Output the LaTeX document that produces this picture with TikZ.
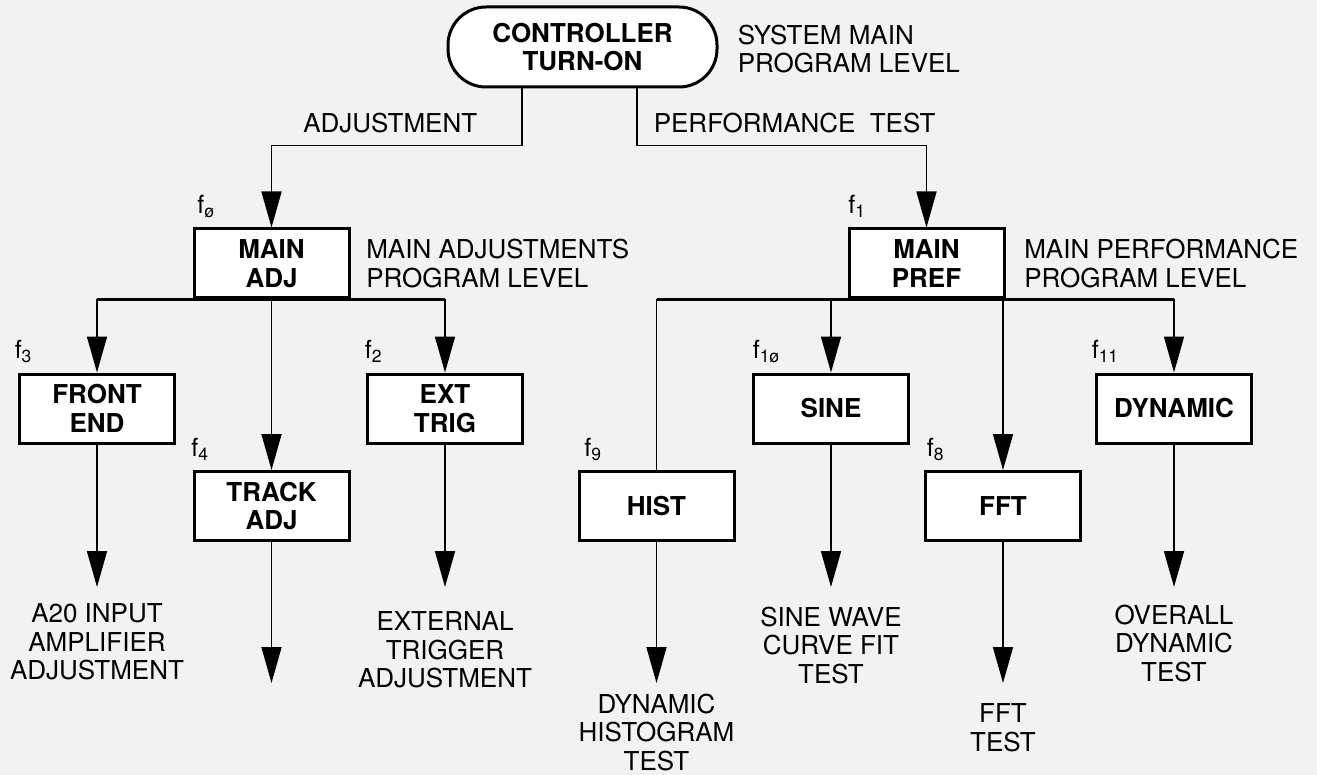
\documentclass[tikz,border=0pt]{standalone}
\usepackage{fontspec}
\setmainfont{TeX Gyre Heros}
\usepackage{tikz}
\usetikzlibrary{arrows.meta,positioning}

\begin{document}
\begin{tikzpicture}
	[->,>={Triangle[length=18pt,width=10pt]},line width=0.8pt,node distance=174pt]
	\tikzstyle{blk}=[draw,line width=1.5pt,fill=white,minimum width=77.5pt,minimum height=34.5pt,align=center,inner sep=2pt,font=\fontsize{13}{14.25}\selectfont\bfseries]
	\tikzstyle{side}=[align=left,inner sep=0pt,font=\fontsize{13}{14.25}\selectfont]
	\tikzstyle{outtxt}=[align=center,inner sep=0pt,font=\fontsize{13}{14.25}\selectfont]
	\tikzstyle{flbl}=[anchor=base west,inner sep=0pt,yshift=7pt,font=\fontsize{12.5}{13}\selectfont]
	\tikzstyle{bus}=[-,line width=1.2pt]

	\path[use as bounding box,fill=black!5] (0pt,0pt) rectangle (658.5pt,-387.5pt);

	% program levels
	\node[blk,rounded corners=19pt,minimum width=134.5pt,minimum height=40pt] (top) at (291.25pt,-23.5pt) {CONTROLLER\\TURN-ON};
	\node[blk] (mainadj) at (135.75pt,-131.75pt) {MAIN\\ADJ};
	\node[blk] (mainpref) [node distance=327.5pt,right of=mainadj] {MAIN\\PREF};

	\node[side,anchor=west] (sysmain) at ([xshift=9.25pt,yshift=-1pt]top.east) {SYSTEM MAIN\\PROGRAM LEVEL};
	\node[side,anchor=west] (adjlevel) at ([xshift=7.5pt]mainadj.east) {MAIN ADJUSTMENTS\\PROGRAM LEVEL};
	\node[side,anchor=west] (preflevel) at ([xshift=9pt]mainpref.east) {MAIN PERFORMANCE\\PROGRAM LEVEL};
	\node[side,anchor=east] (lbladj) at (239pt,-61.5pt) {ADJUSTMENT};
	\node[side,anchor=west] (lblperf) at (326.5pt,-61.5pt) {PERFORMANCE\ \ TEST};

	% test boxes
	\node[blk] (frontend) at (48.5pt,-204.25pt) {FRONT\\END};
	\node[blk] (exttrig)  [right of=frontend] {EXT\\TRIG};
	\node[blk] (sine)     [node distance=193pt,right of=exttrig] {SINE};
	\node[blk] (dynamic)  [node distance=171.5pt,right of=sine] {DYNAMIC};
	\node[blk] (trackadj) [node distance=121.25pt,below of=mainadj] {TRACK\\ADJ};
	\node[blk] (hist)     [node distance=192.5pt,right of=trackadj] {HIST};
	\node[blk] (fft)      [node distance=173.25pt,right of=hist] {FFT};

	\node[flbl,xshift=2pt] (f0)  at (mainadj.north west) {f\textsubscript{ø}};
	\node[flbl] (f1)  at (mainpref.north west) {f\textsubscript{1}};
	\node[flbl,xshift=-2pt] (f3)  at (frontend.north west) {f\textsubscript{3}};
	\node[flbl,xshift=-1pt] (f2)  at (exttrig.north west) {f\textsubscript{2}};
	\node[flbl,xshift=-1pt] (f4)  at (trackadj.north west) {f\textsubscript{4}};
	\node[flbl,xshift=3pt] (f9)  at (hist.north west) {f\textsubscript{9}};
	\node[flbl] (f10) at (sine.north west) {f\textsubscript{1ø}};
	\node[flbl] (f8)  at ([xshift=1pt]fft.north west) {f\textsubscript{8}};
	\node[flbl,xshift=-2pt] (f11) at (dynamic.north west) {f\textsubscript{11}};

	% outputs
	\coordinate (tipfe)   at ([yshift=-89.25pt]frontend.center);
	\coordinate (tipet)   at ([yshift=-89.25pt]exttrig.center);
	\coordinate (tipsine) at ([yshift=-89.25pt]sine.center);
	\coordinate (tipdyn)  at ([yshift=-89.25pt]dynamic.center);
	\coordinate (tipta)   at ([yshift=-88.5pt]trackadj.center);
	\coordinate (tiphist) at ([yshift=-88.5pt]hist.center);
	\coordinate (tipfft)  at ([yshift=-88.5pt]fft.center);

	\node[outtxt,below=8pt of tipfe]     (txtfe)   {A20 INPUT\\AMPLIFIER\\ADJUSTMENT};
	\node[outtxt,below=12pt of tipet]    (txtet)   {EXTERNAL\\TRIGGER\\ADJUSTMENT};
	\node[outtxt,below=9.5pt of tipsine] (txtsine) {SINE WAVE\\CURVE FIT\\TEST};
	\node[outtxt,below=8.5pt of tipdyn]  (txtdyn)  {OVERALL\\DYNAMIC\\TEST};
	\node[outtxt,below=5pt of tiphist]   (txthist) {DYNAMIC\\HISTOGRAM\\TEST};
	\node[outtxt,below=10pt of tipfft]   (txtfft)  {FFT\\TEST};

	% branches from the top
	\draw ([xshift=-30.25pt]top.south) -- ++(0,-28.5pt) -| (mainadj);
	\draw ([xshift=27.25pt]top.south) -- ++(0,-28.5pt) -| (mainpref);

	% buses
	\draw[bus] (frontend |- mainadj.south) -- (exttrig |- mainadj.south);
	\draw[bus] (hist |- mainpref.south) -- (dynamic |- mainpref.south);

	\path (frontend |- mainadj.south) edge (frontend)
		(mainadj) edge (trackadj)
		(exttrig |- mainadj.south) edge (exttrig)
		(sine |- mainpref.south) edge (sine)
		(fft |- mainpref.south) edge (fft)
		(dynamic |- mainpref.south) edge (dynamic)
		(hist |- mainpref.south) edge[-] (hist);

	\path (frontend) edge (tipfe)
		(exttrig) edge (tipet)
		(trackadj) edge (tipta)
		(hist) edge (tiphist)
		(sine) edge (tipsine)
		(fft) edge (tipfft)
		(dynamic) edge (tipdyn);
\end{tikzpicture}
\end{document}
